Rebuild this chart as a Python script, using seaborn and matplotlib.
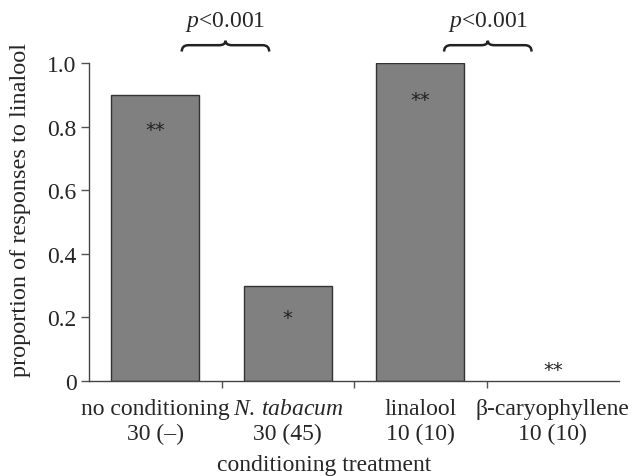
import matplotlib
matplotlib.use("Agg")
import matplotlib.pyplot as plt
import seaborn as sns
import pandas as pd
from matplotlib.path import Path
from matplotlib.patches import PathPatch

categories = ["no conditioning", "N. tabacum", "linalool", "β-caryophyllene"]
tick_labels = ["no conditioning\n30 (–)", r"$\mathit{N.\,tabacum}$" + "\n30 (45)",
               "linalool\n10 (10)", "β-caryophyllene\n10 (10)"]
proportions = [0.9, 0.3, 1.0, 0.0]
stars = ["**", "*", "**", "**"]
star_y = [0.79, 0.20, 0.885, 0.035]
brace_spans = [(0.2, 0.86), (2.18, 2.84)]
brace_labels = ["$p$<0.001", "$p$<0.001"]

sns.set_theme(style="ticks")
plt.rcParams["font.family"] = ["Liberation Serif", "DejaVu Serif"]
plt.rcParams["mathtext.fontset"] = "custom"
plt.rcParams["mathtext.rm"] = "Liberation Serif"
plt.rcParams["mathtext.it"] = "Liberation Serif:italic"

FS = 17

df = pd.DataFrame({"treatment": categories, "prop": proportions})

fig = plt.figure(figsize=(6.39, 4.77), dpi=100)
ax = fig.add_axes([89/639, 1-382/477, 530/639, 318/477])
sns.barplot(data=df, x="treatment", y="prop", ax=ax, color="#808080",
            saturation=1, width=0.665, edgecolor="#333333", linewidth=1.0)
for bar, v in zip(ax.patches, proportions):
    if v == 0:
        bar.set_linewidth(0)

ax.set_xlim(-0.5, 3.5)
ax.set_ylim(0, 1.0)
ax.set_yticks([0, 0.2, 0.4, 0.6, 0.8, 1.0])
ax.set_yticklabels(["0", "0.2", "0.4", "0.6", "0.8", "1.0"], fontsize=FS)
ax.set_xticks(range(4))
ax.set_xticklabels(tick_labels, fontsize=FS, linespacing=1.25)
ax.set_xticks([0.5, 1.5, 2.5], minor=True)
ax.tick_params(axis="x", which="major", length=0, pad=12)
ax.tick_params(axis="x", which="minor", length=5, width=1, color="#555555", direction="out")
ax.tick_params(axis="y", length=6, width=1, color="#555555", direction="out", pad=3)
for s in ["top", "right"]:
    ax.spines[s].set_visible(False)
for s in ["left", "bottom"]:
    ax.spines[s].set_color("#444444")
    ax.spines[s].set_linewidth(1.0)

ax.set_xlabel("conditioning treatment", fontsize=FS)
ax.set_ylabel("proportion of responses to linalool", fontsize=FS + 0.5)
ax.xaxis.set_label_coords(0.443, -0.23)
ax.yaxis.set_label_coords(-0.11, 0.54)

for i, (s, y) in enumerate(zip(stars, star_y)):
    ax.text(i, y, s, ha="center", va="center", fontsize=14, color="#222222",
            family="DejaVu Sans")

def brace(ax, x0, x1, yb=1.036, yt=1.056, yp=1.07):
    xm = (x0 + x1) / 2
    r = 0.05
    verts = [(x0, yb), (x0, yt), (x0 + r, yt),
             (xm - r, yt), (xm, yt), (xm, yp),
             (xm, yp), (xm, yt), (xm + r, yt),
             (x1 - r, yt), (x1, yt), (x1, yb)]
    codes = [Path.MOVETO, Path.CURVE3, Path.CURVE3,
             Path.LINETO, Path.CURVE3, Path.CURVE3,
             Path.MOVETO, Path.CURVE3, Path.CURVE3,
             Path.LINETO, Path.CURVE3, Path.CURVE3]
    p = PathPatch(Path(verts, codes), fill=False, lw=1.8, color="#222222",
                  clip_on=False, transform=ax.transData)
    ax.add_patch(p)

for (x0, x1), lab in zip(brace_spans, brace_labels):
    brace(ax, x0, x1)
    ax.text((x0 + x1) / 2, 1.117, lab, ha="center", va="baseline",
            fontsize=FS, clip_on=False)

fig.savefig("out.png", dpi=100)
